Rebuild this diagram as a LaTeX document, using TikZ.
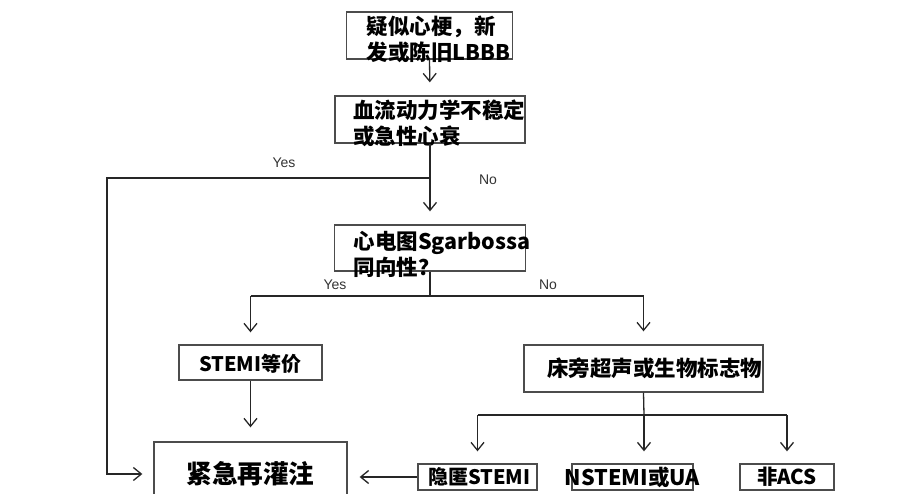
\documentclass[tikz,border=0pt]{standalone}
\usepackage{fontspec}
\usepackage{tikz}
\usetikzlibrary{arrows.meta}
\setmainfont{Liberation Sans}
\newfontfamily\cjk{Noto Sans CJK SC}
\newcommand{\dn}[2]{\raisebox{-#1pt}[12pt][0pt]{#2}}

\begin{document}
\begin{tikzpicture}[x=1pt,y=-1pt,
  box/.style={draw=black!70,line width=1.3pt,align=left,inner ysep=0pt,
    font=\cjk\bfseries\fontsize{21.5}{26}\selectfont},
  arr/.style={-{Straight Barb[length=8pt,width=13pt]},line width=1.3pt,draw=black!85},
  link/.style={line width=1.3pt,draw=black!85},
  lbl/.style={font=\fontsize{14}{16}\selectfont,text=black!80}]
\useasboundingbox (0,0) rectangle (900,494);
%%%%%%%%%
\node [box,minimum height=47pt,text width=126pt,inner xsep=20pt] (suspect) at (429.5,35.5) {\dn{6}{疑似心梗，新}\\\dn{6}{发或陈旧LBBB}};
\node [box,minimum height=47pt,text width=154pt,inner xsep=18pt] (unstable) at (430,119.5) {\dn{6.5}{血流动力学不稳定}\\\dn{6.5}{或急性心衰}};
\node [box,minimum height=46pt,text width=153pt,inner xsep=19pt] (sgar) at (430,248) {\dn{9}{心电图Sgarbossa}\\\dn{9}{同向性？}};
%%%%%%%%%
\node [box,minimum height=35pt,text width=103pt,inner xsep=20pt,
  font=\cjk\bfseries\fontsize{20}{22}\selectfont] (stemi) at (250.5,362.5) {\dn{3}{STEMI等价}};
\node [box,minimum height=47pt,text width=193pt,inner xsep=23pt] (bedside) at (643.5,368.5) {\dn{2}{床旁超声或生物标志物}};
\node [box,minimum height=64pt,text width=193pt,inner xsep=0pt,align=center,
  font=\cjk\bfseries\fontsize{25.6}{28}\selectfont] (reperf) at (250.5,474) {紧急再灌注};
%%%%%%%%%
\node [box,minimum height=26pt,text width=99pt,inner xsep=10pt,
  font=\cjk\bfseries\fontsize{20}{22}\selectfont] (hidden) at (477.5,477) {隐匿STEMI};
\node [box,minimum height=26pt,text width=121pt,inner xsep=0pt,
  font=\cjk\bfseries\fontsize{21.5}{22}\selectfont] (nstemi) at (632.5,477) {\makebox[\linewidth]{NSTEMI或UA}};
\node [box,minimum height=26pt,text width=94pt,inner xsep=0pt,align=center,
  font=\cjk\bfseries\fontsize{20.5}{22}\selectfont] (nonacs) at (787,477) {非ACS};
%%%%%%%%%
\coordinate (yesturn) at (430,178);
\coordinate (yesleft) at (107,178);
\coordinate (split1) at (430,296);
\coordinate (split2) at (644,415);
\draw [arr,shorten >=13pt] (suspect.south) -- (unstable.north);
\draw [arr,shorten >=13pt] (unstable.south) -- (sgar.north);
\draw [arr,shorten >=11pt] (yesturn) -- (yesleft) |- (reperf.west);
\draw [link] (sgar.south) -- (split1);
\draw [link] (stemi.north |- split1) -- (bedside.north |- split1);
\draw [arr,shorten >=12pt] (stemi.north |- split1) -- (stemi.north);
\draw [arr,shorten >=13pt] (bedside.north |- split1) -- (bedside.north);
\draw [arr,shorten >=14pt] (stemi.south) -- (reperf.north);
\draw [link] (bedside.south) -- (split2);
\draw [link] (hidden.north |- split2) -- (nonacs.north |- split2);
\draw [arr,shorten >=12pt] (hidden.north |- split2) -- (hidden.north);
\draw [arr,shorten >=12pt] (split2) -- (split2 |- nstemi.north);
\draw [arr,shorten >=12pt] (nonacs.north |- split2) -- (nonacs.north);
\draw [arr,shorten >=12pt] (hidden.west) -- (hidden.west -| reperf.east);
%%%%%%%%%
\node [lbl] (yesa) at (284,163) {Yes};
\node [lbl] (noa) at (488,180) {No};
\node [lbl] (yesb) at (335,285) {Yes};
\node [lbl] (nob) at (548,285) {No};
\end{tikzpicture}
\end{document}
